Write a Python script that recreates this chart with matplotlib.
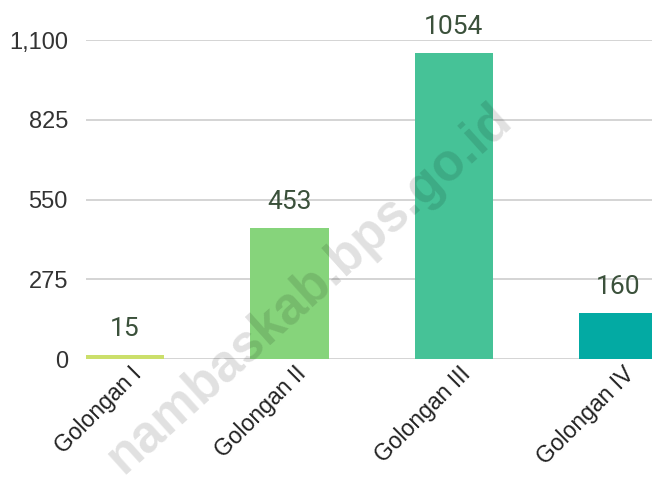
import matplotlib
matplotlib.use("Agg")
from matplotlib import pyplot as plt
from matplotlib import transforms
import numpy as np

categories = ["Golongan I", "Golongan II", "Golongan III", "Golongan IV"]
values = [15, 453, 1054, 160]
bar_colors = ["#cbdf6b", "#86d47b", "#46c297", "#03aaa3"]
yticks = [0, 275, 550, 825, 1100]
watermark = "nambaskab.bps.go.id"

fig = plt.figure(figsize=(6.52, 4.78), dpi=100)
ax = fig.add_axes([86/652, 1 - 359/478, 1 - 86/652, 319/478])

x = np.arange(len(categories))
ax.bar(x, values, width=0.476, color=bar_colors, zorder=2)

ax.set_xlim(-0.238, 3.207)
ax.set_ylim(0, 1100)
ax.set_yticks(yticks)
ax.set_yticklabels([f"{v:,}" for v in yticks], fontsize=17, color="#333333",
                   family="Liberation Sans")
ax.grid(axis="y", color="#d4d4d4", linewidth=1.4, zorder=0)
ax.tick_params(axis="y", length=0, pad=13)
ax.tick_params(axis="x", length=0, pad=4)
for s in ax.spines.values():
    s.set_visible(False)

ax.set_xticks(x)
ax.set_xticklabels(categories, rotation=45, ha="right", va="center",
                   rotation_mode="anchor", fontsize=16.5, color="#222222",
                   family="Liberation Sans")
shift = transforms.ScaledTranslation(13/100, -6/100, fig.dpi_scale_trans)
for lab in ax.get_xticklabels():
    lab.set_transform(lab.get_transform() + shift)

# value labels
for xi, v in zip(x, values):
    ax.annotate(str(v), (xi, v), xytext=(0, 10), textcoords="offset points",
                ha="center", va="bottom", fontsize=19, color="#3b513b",
                family="Roboto", annotation_clip=False)

# watermark
fig.text(0.475, 0.395, watermark, rotation=42, fontsize=37, fontweight="bold",
         color="black", alpha=0.12, ha="center", va="center",
         family="Liberation Sans", zorder=10)

fig.savefig("out.png", dpi=100)
